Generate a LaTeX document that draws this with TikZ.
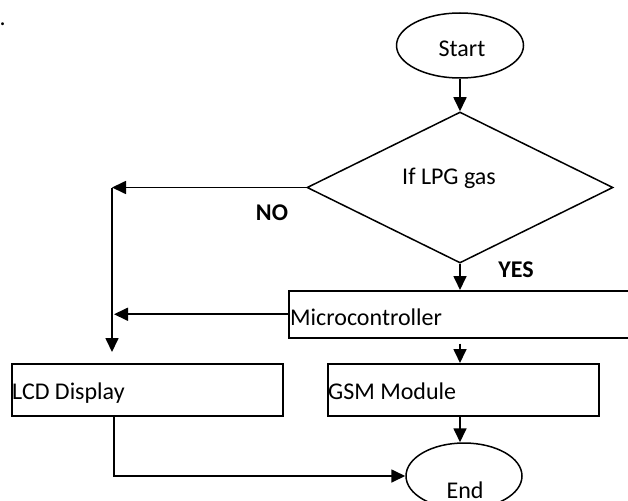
\documentclass[tikz,border=0pt]{standalone}
\usepackage{fontspec}
\setmainfont{Carlito}
\usetikzlibrary{shapes.geometric,arrows.meta}
\begin{document}
\begin{tikzpicture}[x=1pt,y=1pt,
  every node/.style={font=\fontsize{24}{28}\selectfont},
  shp/.style={draw, line width=1.5pt, inner sep=0pt},
  term/.style={shp, ellipse},
  boxx/.style={shp, rectangle, anchor=north west},
  lbl/.style={inner sep=0pt, anchor=base},
  lblw/.style={inner sep=0pt, anchor=base west},
  conn/.style={line width=1.7pt, -{Triangle[length=14pt,width=13pt]}}]
\useasboundingbox (0,0) rectangle (628,-500);
% stray dot
\node[lblw] (dot) at (-0.5,-26) {.};
% shapes
\node[term, minimum width=127pt, minimum height=65pt] (start) at (460,-45.5) {};
\node[lbl] (starttxt) at (462,-57) {Start};
\node[shp, diamond, minimum width=306pt, minimum height=151pt] (dec) at (460,-187.5) {};
\node[lbl] (dectxt) at (449,-184) {If LPG gas};
\node[lbl] (no) at (272,-220) {\bfseries NO};
\node[lbl] (yes) at (516,-277) {\bfseries YES};
\node[boxx, minimum width=346pt, minimum height=47pt] (micro) at (288,-290) {};
\node[lblw] (microtxt) at (290,-325) {Microcontroller};
\node[boxx, minimum width=271pt, minimum height=52pt] (lcd) at (11,-363) {};
\node[lblw] (lcdtxt) at (12,-399) {LCD Display};
\node[boxx, minimum width=271pt, minimum height=52pt] (gsm) at (327,-363) {};
\node[lblw] (gsmtxt) at (328,-399) {GSM Module};
\node[term, minimum width=116pt, minimum height=66pt] (end) at (464,-476) {};
\node[lbl] (endtxt) at (465,-498) {End};
% connectors
\coordinate (nocorner) at (112,-187.5);
\draw[conn] (start.south -| dec.north) -- (dec.north);
\draw[conn] (dec.west) -- (nocorner);
\draw[conn, shorten >=11pt] (nocorner) -- (nocorner |- lcd.north);
\draw[conn, shorten >=2pt] (micro.west) -- (micro.west -| nocorner);
\draw[conn] (dec.south) -- (dec.south |- micro.north);
\draw[conn, shorten <=5pt] (dec.south |- micro.south) -- (dec.south |- gsm.north);
\draw[conn] (dec.south |- gsm.south) -- (dec.south |- end.north);
\draw[conn] ([xshift=2pt]nocorner |- lcd.south) -- ([xshift=2pt]nocorner |- end.west) -- (end.west);
\end{tikzpicture}
\end{document}
